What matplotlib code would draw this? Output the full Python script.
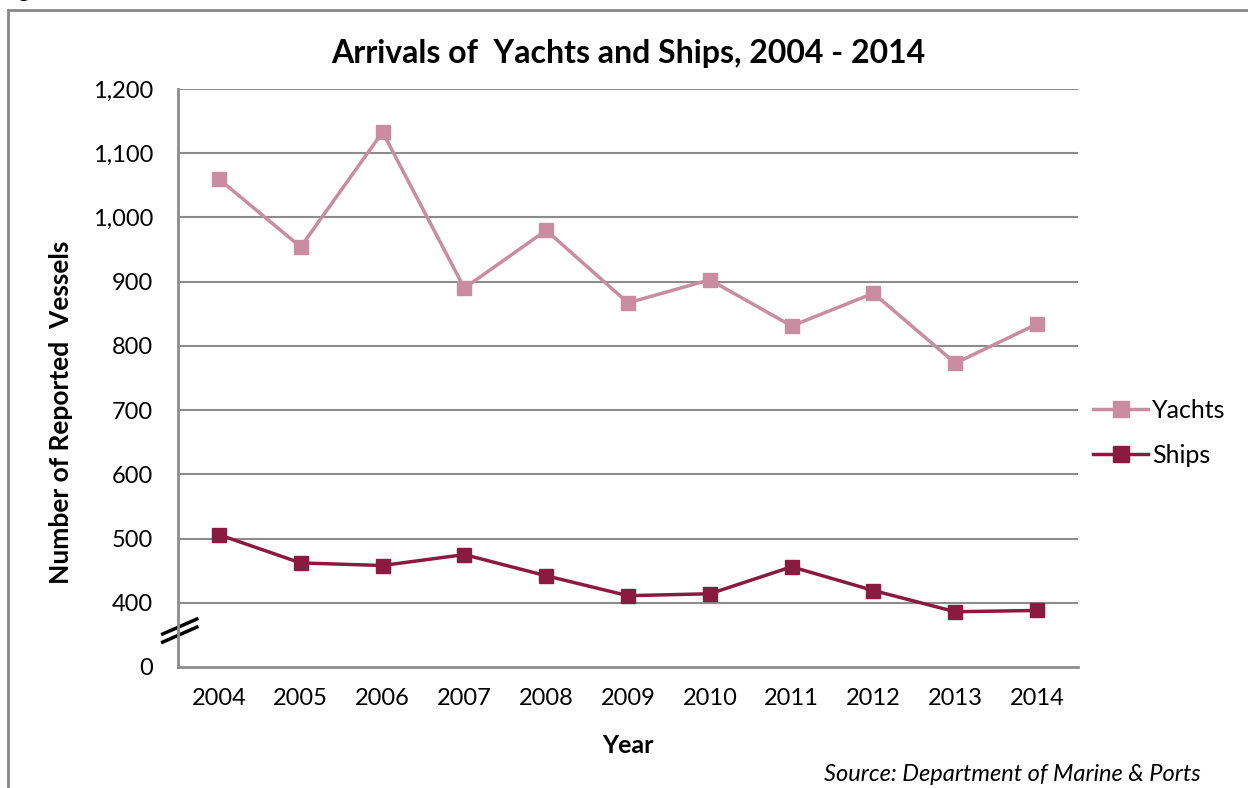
import matplotlib.pyplot as plt
from matplotlib.lines import Line2D
import numpy as np

plt.rcParams['font.family'] = ['Lato', 'DejaVu Sans']

years = ['2004', '2005', '2006', '2007', '2008', '2009', '2010', '2011', '2012', '2013', '2014']
yachts = [1060, 954, 1133, 890, 980, 867, 903, 831, 882, 773, 834]
ships = [506, 462, 458, 475, 442, 411, 414, 456, 419, 386, 388]
ytick_vals = [300, 400, 500, 600, 700, 800, 900, 1000, 1100, 1200]
ytick_labels = ['0', '400', '500', '600', '700', '800', '900', '1,000', '1,100', '1,200']

yacht_col = '#c98ca0'
ship_col = '#8b1a40'
grid_col = '#8c8c8c'

fig = plt.figure(figsize=(12.48, 7.88), dpi=100)
ax = fig.add_axes([0.1426, 0.1536, 0.7212, 0.7334])

x = np.arange(len(years))
ax.plot(x, yachts, color=yacht_col, lw=2.5, marker='s', ms=10, label='Yachts')
ax.plot(x, ships, color=ship_col, lw=2.5, marker='s', ms=10, label='Ships')

ax.set_xlim(-0.5, len(years) - 0.5)
ax.set_ylim(300, 1200)
ax.set_xticks(x)
ax.set_xticklabels(years)
ax.set_yticks(ytick_vals)
ax.set_yticklabels(ytick_labels)
ax.tick_params(axis='both', length=0, labelsize=17)
ax.tick_params(axis='x', pad=15)
ax.tick_params(axis='y', pad=18)

# gridlines only from 400 upward
for v in ytick_vals[1:]:
    ax.axhline(v, color=grid_col, lw=1.5, zorder=0)

for side in ['top', 'right']:
    ax.spines[side].set_visible(False)
for side in ['left', 'bottom']:
    ax.spines[side].set_color(grid_col)
    ax.spines[side].set_linewidth(2)

# axis break marks
for y0 in [0.057, 0.043]:
    ax.plot([-0.017, 0.021], [y0, y0 + 0.026], color='black', lw=2.5,
            transform=ax.transAxes, clip_on=False)

ax.set_title('Arrivals of  Yachts and Ships, 2004 - 2014', fontsize=23,
             fontweight='bold', pad=19)
ax.set_xlabel('Year', fontsize=18, fontweight='bold', labelpad=18)
ax.set_ylabel('Number of Reported  Vessels', fontsize=19, fontweight='bold')
ax.yaxis.set_label_coords(-0.117, 0.441)

ax.legend(loc='center left', bbox_to_anchor=(1.0, 0.405), frameon=False,
          fontsize=18, handlelength=2.2, labelspacing=0.9, handletextpad=0.15,
          borderaxespad=0.2, markerscale=1.2)

fig.text(0.962, 0.004, 'Source: Department of Marine & Ports', fontsize=17,
         style='italic', ha='right', va='bottom')
fig.text(0.0, 1.004, 'Figure', fontsize=16, fontweight='bold', va='baseline')

# outer frame
fig.add_artist(Line2D([8 / 1248, 1], [1 - 10 / 788, 1 - 10 / 788], color='#888888', lw=2))
fig.add_artist(Line2D([8 / 1248, 8 / 1248], [0, 1 - 10 / 788], color='#888888', lw=2))

fig.savefig('out.png', dpi=100)
